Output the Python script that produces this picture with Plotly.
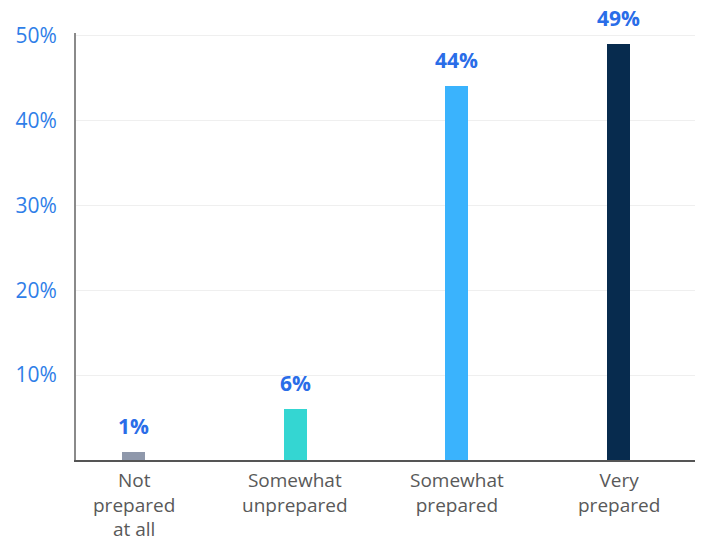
import plotly.graph_objects as go

# Survey responses: how prepared respondents feel
categories = ["Not prepared at all", "Somewhat unprepared", "Somewhat prepared", "Very prepared"]
category_lines = [["Not", "prepared", "at all"], ["Somewhat", "unprepared"], ["Somewhat", "prepared"], ["Very", "prepared"]]
shares = [1, 6, 44, 49]
value_labels = ["1%", "6%", "44%", "49%"]
bar_colors = ["#8f98ab", "#34d6d2", "#3ab3fd", "#072b4e"]
tick_values = [10, 20, 30, 40, 50]
tick_labels = ["10%", "20%", "30%", "40%", "50%"]

FONT = "Open Sans"

fig = go.Figure(
    go.Bar(
        x=categories,
        y=shares,
        marker=dict(color=bar_colors, line=dict(width=0)),
        width=0.142,
        hoverinfo="skip",
    )
)

# Value labels above each bar
for cat, val, lab in zip(categories, shares, value_labels):
    fig.add_annotation(
        x=cat, y=val, text=lab, showarrow=False,
        xanchor="center", yanchor="bottom", yshift=10,
        font=dict(family=FONT, size=21, color="#2a6de8", weight="bold"),
    )

# Category names below the axis
for cat, lines in zip(categories, category_lines):
    fig.add_annotation(
        x=cat, y=0, yref="paper", text="<br>".join(lines), showarrow=False,
        xanchor="center", yanchor="top", yshift=-5, align="center",
        font=dict(family=FONT, size=19, color="#595959"),
    )

fig.update_layout(
    width=701, height=546,
    margin=dict(l=76, r=6, t=33, b=86),
    paper_bgcolor="white", plot_bgcolor="white",
    showlegend=False,
    bargap=0,
    xaxis=dict(
        type="category",
        range=[-0.356, 3.473],
        showticklabels=False,
        showgrid=False,
        ticks="",
        showline=True, linecolor="#555555", linewidth=2,
        fixedrange=True,
    ),
    yaxis=dict(
        range=[0, 50.3],
        tickvals=tick_values,
        ticktext=tick_labels,
        tickfont=dict(family=FONT, size=21, color="#2f7ee8"),
        ticks="",
        ticklabelstandoff=13,
        showgrid=True, gridcolor="#efefef", gridwidth=1,
        zeroline=False,
        showline=True, linecolor="#8a8a8a", linewidth=2,
        fixedrange=True,
    ),
)

fig.write_html("out.html")
